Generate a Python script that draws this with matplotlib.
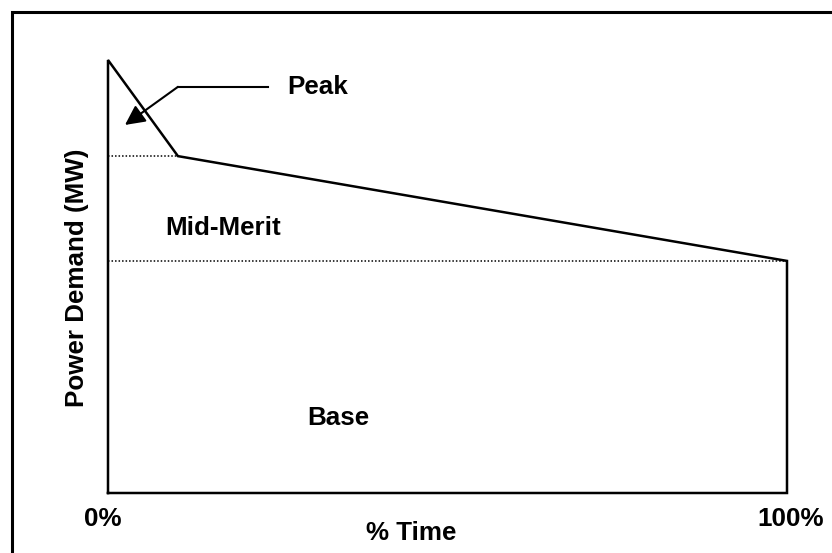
import matplotlib
matplotlib.use('Agg')
import matplotlib.pyplot as plt
from matplotlib.patches import Rectangle

plt.rcParams['font.family'] = ['Liberation Sans', 'DejaVu Sans']
plt.rcParams['font.weight'] = 'bold'

# load duration curve (% time vs demand, peak = 100)
time_pct = [0, 0, 10.3, 100, 100, 0]
demand = [0, 100, 77.8, 53.6, 0, 0]
mid_level = 77.8    # top of mid-merit band
base_level = 53.6   # top of base band
knee_time = 10.3

band_labels = ['Peak', 'Mid-Merit', 'Base']
x_labels = ['0%', '100%']

fig = plt.figure(figsize=(8.32, 5.53), dpi=100)
W, H = 832, 553

# outer box
fig.patches.append(Rectangle((12 / W, -0.1), 2, (H - 12) / H + 0.1,
                             transform=fig.transFigure, fill=False,
                             lw=2.2, ec='black'))

ax = fig.add_axes([108 / W, (H - 493) / H, 679 / W, 433 / H])
ax.set_xlim(0, 100)
ax.set_ylim(0, 100)
ax.axis('off')

ax.plot(time_pct, demand, color='black', lw=1.8, clip_on=False,
        solid_joinstyle='miter')
# band separators
ax.plot([0, knee_time], [mid_level, mid_level], color='black', lw=1.1,
        linestyle=(0, (1, 1.3)), clip_on=False)
ax.plot([0, 100], [base_level, base_level], color='black', lw=1.1,
        linestyle=(0, (1, 1.3)), clip_on=False)

# Peak callout
ax.plot([10.3, 23.6], [93.8, 93.8], color='black', lw=1.5, clip_on=False)
ax.annotate('', xy=(2.5, 85.0), xytext=(10.3, 93.8),
            arrowprops=dict(arrowstyle='-|>', mutation_scale=30, lw=1.5,
                            color='black', shrinkA=0, shrinkB=0))

fs = 18.7
ax.text(26.4, 93.8, band_labels[0], fontsize=fs, ha='left', va='center')
ax.text(8.4, 61.2, band_labels[1], fontsize=fs, ha='left', va='center')
ax.text(29.3, 17.3, band_labels[2], fontsize=fs, ha='left', va='center')

ax.text(-4.6, 49.7, 'Power Demand (MW)', fontsize=fs, rotation=90,
        ha='center', va='center')
ax.text(-0.7, -6.0, x_labels[0], fontsize=fs, ha='center', va='center')
ax.text(100.6, -6.0, x_labels[1], fontsize=fs, ha='center', va='center')
ax.text(44.6, -9.2, '% Time', fontsize=fs, ha='center', va='center')

fig.savefig('out.png', dpi=100)
